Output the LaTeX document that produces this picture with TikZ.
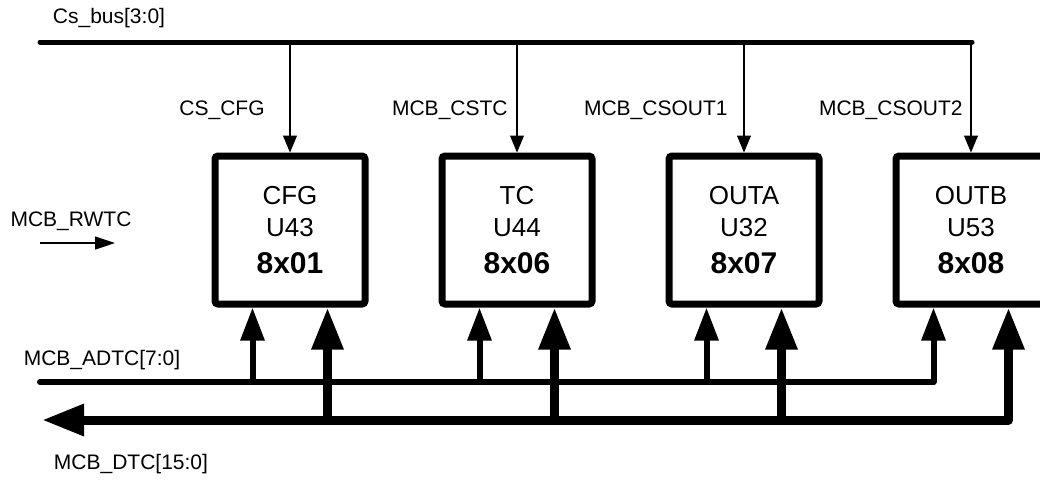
\documentclass[tikz,border=0pt]{standalone}
\usepackage{fontspec}
\setmainfont{Liberation Sans}
\usetikzlibrary{arrows.meta, positioning}

\begin{document}
\begin{tikzpicture}[
  x=0.5pt, y=-0.5pt,
  cshead/.tip={Triangle[length=8.5pt, width=7pt]},
  adhead/.tip={Triangle[length=16.5pt, width=11.5pt]},
  dthead/.tip={Triangle[length=21pt, width=15pt]},
  chip/.style={draw, line width=3.5pt, rounded corners=1.5pt, minimum width=75pt,
    minimum height=74pt, align=center, font=\fontsize{13}{16}\selectfont},
  sig/.style={inner sep=0pt, font=\fontsize{10.5}{12}\selectfont},
  bus/.style={line width=2.5pt, line cap=round},
  csarrow/.style={line width=0.6pt, -cshead},
  adarrow/.style={line width=3pt, line join=round, line cap=round, -adhead},
  dtarrow/.style={line width=4.5pt, line join=round, -dthead}
]
\useasboundingbox (0,0) rectangle (1040,479);

\node[chip] (cfg) at (290,230) {CFG\\U43\\[2.5pt]{\fontsize{15}{18}\selectfont\bfseries 8x01}};
\node[chip, right=35pt of cfg] (tc) {TC\\U44\\[2.5pt]{\fontsize{15}{18}\selectfont\bfseries 8x06}};
\node[chip, right=35pt of tc] (outa) {OUTA\\U32\\[2.5pt]{\fontsize{15}{18}\selectfont\bfseries 8x07}};
\node[chip, right=35pt of outa] (outb) {OUTB\\U53\\[2.5pt]{\fontsize{15}{18}\selectfont\bfseries 8x08}};

% chip select bus
\coordinate (csl) at (40,42);
\coordinate (csr) at (972,42);
\node[sig] (csbus) at (109,18) {Cs\_bus[3:0]};
\draw[bus] (csl) -- (csr);
\draw[csarrow] (cfg.north |- csl) -- (cfg.north);
\draw[csarrow] (tc.north |- csl) -- (tc.north);
\draw[csarrow] (outa.north |- csl) -- (outa.north);
\draw[csarrow] (outb.north |- csl) -- (outb.north);
\node[sig, anchor=east] (cscfg) at (265,110) {CS\_CFG};
\node[sig, anchor=east] (cstc) at (508,110) {MCB\_CSTC};
\node[sig, anchor=east] (csouta) at (728,110) {MCB\_CSOUT1};
\node[sig, anchor=east] (csoutb) at (963,110) {MCB\_CSOUT2};

% read/write
\node[sig] (rwtc) at (71,221) {MCB\_RWTC};
\coordinate (rwa) at (40,243);
\coordinate (rwb) at (115,243);
\draw[line width=0.6pt, -{Triangle[length=10pt, width=6.5pt]}] (rwa) -- (rwb);

% address bus
\coordinate (adtc) at (40,382);
\node[sig] (adlbl) at (102,360) {MCB\_ADTC[7:0]};
\coordinate (ad1) at ([xshift=-18.75pt]cfg.south);
\coordinate (ad2) at ([xshift=-18.75pt]tc.south);
\coordinate (ad3) at ([xshift=-18.75pt]outa.south);
\coordinate (ad4) at ([xshift=-18.75pt]outb.south);
\draw[adarrow] (adtc) -- (ad4 |- adtc) -- (ad4);
\draw[adarrow] (ad1 |- adtc) -- (ad1);
\draw[adarrow] (ad2 |- adtc) -- (ad2);
\draw[adarrow] (ad3 |- adtc) -- (ad3);

% data bus
\coordinate (dtc) at (42,420);
\node[sig] (dtlbl) at (131,464) {MCB\_DTC[15:0]};
\coordinate (dt1) at ([xshift=18.75pt]cfg.south);
\coordinate (dt2) at ([xshift=18.75pt]tc.south);
\coordinate (dt3) at ([xshift=18.75pt]outa.south);
\coordinate (dt4) at ([xshift=18.75pt]outb.south);
\draw[dtarrow, dthead-dthead] (dt4) -- (dt4 |- dtc) -- (dtc);
\draw[dtarrow] (dt1 |- dtc) -- (dt1);
\draw[dtarrow] (dt2 |- dtc) -- (dt2);
\draw[dtarrow] (dt3 |- dtc) -- (dt3);
\end{tikzpicture}
\end{document}
